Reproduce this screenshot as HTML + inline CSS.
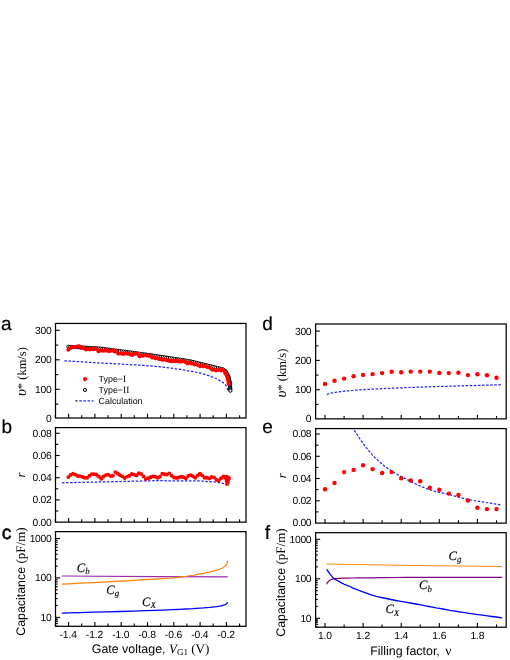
<!DOCTYPE html><html><head><meta charset="utf-8"><style>html,body{margin:0;padding:0;background:#fff}svg{display:block;will-change:transform;transform:translateZ(0)}text{font-family:"Liberation Sans",sans-serif;fill:#000;text-rendering:geometricPrecision}.s{font-family:"Liberation Serif",serif}</style></head><body>
<svg width="510" height="660" viewBox="0 0 510 660">
<rect width="510" height="660" fill="#fff"/>
<rect x="55.5" y="323.45" width="190.5" height="94.55000000000001" fill="none" stroke="#000" stroke-width="1.25"/>
<line x1="68.6" y1="418.0" x2="68.6" y2="413.8" stroke="#000" stroke-width="1.1"/>
<line x1="94.9" y1="418.0" x2="94.9" y2="413.8" stroke="#000" stroke-width="1.1"/>
<line x1="121.2" y1="418.0" x2="121.2" y2="413.8" stroke="#000" stroke-width="1.1"/>
<line x1="147.5" y1="418.0" x2="147.5" y2="413.8" stroke="#000" stroke-width="1.1"/>
<line x1="173.8" y1="418.0" x2="173.8" y2="413.8" stroke="#000" stroke-width="1.1"/>
<line x1="200.1" y1="418.0" x2="200.1" y2="413.8" stroke="#000" stroke-width="1.1"/>
<line x1="226.4" y1="418.0" x2="226.4" y2="413.8" stroke="#000" stroke-width="1.1"/>
<line x1="55.4" y1="418.0" x2="55.4" y2="415.2" stroke="#000" stroke-width="1.1"/>
<line x1="81.7" y1="418.0" x2="81.7" y2="415.2" stroke="#000" stroke-width="1.1"/>
<line x1="108.0" y1="418.0" x2="108.0" y2="415.2" stroke="#000" stroke-width="1.1"/>
<line x1="134.3" y1="418.0" x2="134.3" y2="415.2" stroke="#000" stroke-width="1.1"/>
<line x1="160.6" y1="418.0" x2="160.6" y2="415.2" stroke="#000" stroke-width="1.1"/>
<line x1="186.9" y1="418.0" x2="186.9" y2="415.2" stroke="#000" stroke-width="1.1"/>
<line x1="213.2" y1="418.0" x2="213.2" y2="415.2" stroke="#000" stroke-width="1.1"/>
<line x1="239.6" y1="418.0" x2="239.6" y2="415.2" stroke="#000" stroke-width="1.1"/>
<line x1="55.5" y1="389.3" x2="59.7" y2="389.3" stroke="#000" stroke-width="1.1"/>
<line x1="55.5" y1="359.8" x2="59.7" y2="359.8" stroke="#000" stroke-width="1.1"/>
<line x1="55.5" y1="330.3" x2="59.7" y2="330.3" stroke="#000" stroke-width="1.1"/>
<line x1="55.5" y1="404.1" x2="58.3" y2="404.1" stroke="#000" stroke-width="1.1"/>
<line x1="55.5" y1="374.6" x2="58.3" y2="374.6" stroke="#000" stroke-width="1.1"/>
<line x1="55.5" y1="345.1" x2="58.3" y2="345.1" stroke="#000" stroke-width="1.1"/>
<text x="51.4" y="422.2" font-size="10.3" letter-spacing="-0.3" text-anchor="end">0</text>
<text x="51.4" y="392.7" font-size="10.3" letter-spacing="-0.3" text-anchor="end">100</text>
<text x="51.4" y="363.2" font-size="10.3" letter-spacing="-0.3" text-anchor="end">200</text>
<text x="51.4" y="333.7" font-size="10.3" letter-spacing="-0.3" text-anchor="end">300</text>
<polyline points="64.4,360.8 67.0,361.0 70.3,361.2 74.3,361.4 78.8,361.7 83.7,362.0 88.9,362.3 94.4,362.7 100.0,363.0 106.1,363.3 112.8,363.7 120.0,364.1 127.4,364.5 134.8,364.9 142.1,365.3 148.9,365.8 155.0,366.3 160.6,366.9 166.0,367.5 171.0,368.1 175.8,368.8 180.3,369.4 184.5,370.1 188.4,370.8 192.0,371.4 195.2,372.0 197.9,372.6 200.4,373.2 202.5,373.7 204.4,374.3 206.2,374.9 207.9,375.4 209.6,376.0 211.2,376.6 212.7,377.1 214.1,377.7 215.3,378.3 216.4,378.8 217.5,379.4 218.5,379.9 219.4,380.4 220.3,380.9 221.0,381.3 221.7,381.8 222.3,382.2 222.9,382.6 223.4,383.0 223.9,383.4 224.3,383.8 224.7,384.2 225.1,384.5 225.3,384.8 225.6,385.1 225.8,385.4 226.0,385.7 226.2,385.9 226.4,386.2 226.6,386.5 226.7,386.7 226.8,387.0 227.0,387.2 227.1,387.5 227.1,387.7 227.2,388.0 227.3,388.2 227.4,388.5 227.4,388.7 227.5,389.0 227.6,389.3 227.6,389.6 227.6,389.8 227.7,390.0 227.7,390.2" fill="none" stroke="#2222ff" stroke-width="1.25" stroke-dasharray="2.5,1.6" stroke-linejoin="round"/>
<circle cx="68.3" cy="346.7" r="1.55" fill="#fff" stroke="#000" stroke-width="1"/>
<circle cx="70.1" cy="346.8" r="1.55" fill="#fff" stroke="#000" stroke-width="1"/>
<circle cx="71.9" cy="346.9" r="1.55" fill="#fff" stroke="#000" stroke-width="1"/>
<circle cx="73.6" cy="347.0" r="1.55" fill="#fff" stroke="#000" stroke-width="1"/>
<circle cx="75.4" cy="347.1" r="1.55" fill="#fff" stroke="#000" stroke-width="1"/>
<circle cx="77.2" cy="347.2" r="1.55" fill="#fff" stroke="#000" stroke-width="1"/>
<circle cx="79.0" cy="347.3" r="1.55" fill="#fff" stroke="#000" stroke-width="1"/>
<circle cx="80.8" cy="347.4" r="1.55" fill="#fff" stroke="#000" stroke-width="1"/>
<circle cx="82.5" cy="347.5" r="1.55" fill="#fff" stroke="#000" stroke-width="1"/>
<circle cx="84.3" cy="347.6" r="1.55" fill="#fff" stroke="#000" stroke-width="1"/>
<circle cx="86.1" cy="347.7" r="1.55" fill="#fff" stroke="#000" stroke-width="1"/>
<circle cx="87.9" cy="347.8" r="1.55" fill="#fff" stroke="#000" stroke-width="1"/>
<circle cx="89.7" cy="347.9" r="1.55" fill="#fff" stroke="#000" stroke-width="1"/>
<circle cx="91.4" cy="348.0" r="1.55" fill="#fff" stroke="#000" stroke-width="1"/>
<circle cx="93.2" cy="348.1" r="1.55" fill="#fff" stroke="#000" stroke-width="1"/>
<circle cx="95.0" cy="348.2" r="1.55" fill="#fff" stroke="#000" stroke-width="1"/>
<circle cx="96.8" cy="348.3" r="1.55" fill="#fff" stroke="#000" stroke-width="1"/>
<circle cx="98.6" cy="348.4" r="1.55" fill="#fff" stroke="#000" stroke-width="1"/>
<circle cx="100.4" cy="348.5" r="1.55" fill="#fff" stroke="#000" stroke-width="1"/>
<circle cx="102.1" cy="348.8" r="1.55" fill="#fff" stroke="#000" stroke-width="1"/>
<circle cx="103.9" cy="349.0" r="1.55" fill="#fff" stroke="#000" stroke-width="1"/>
<circle cx="105.7" cy="349.3" r="1.55" fill="#fff" stroke="#000" stroke-width="1"/>
<circle cx="107.5" cy="349.5" r="1.55" fill="#fff" stroke="#000" stroke-width="1"/>
<circle cx="109.3" cy="349.7" r="1.55" fill="#fff" stroke="#000" stroke-width="1"/>
<circle cx="111.0" cy="350.0" r="1.55" fill="#fff" stroke="#000" stroke-width="1"/>
<circle cx="112.8" cy="350.2" r="1.55" fill="#fff" stroke="#000" stroke-width="1"/>
<circle cx="114.6" cy="350.4" r="1.55" fill="#fff" stroke="#000" stroke-width="1"/>
<circle cx="116.4" cy="350.7" r="1.55" fill="#fff" stroke="#000" stroke-width="1"/>
<circle cx="118.2" cy="350.9" r="1.55" fill="#fff" stroke="#000" stroke-width="1"/>
<circle cx="119.9" cy="351.1" r="1.55" fill="#fff" stroke="#000" stroke-width="1"/>
<circle cx="121.7" cy="351.4" r="1.55" fill="#fff" stroke="#000" stroke-width="1"/>
<circle cx="123.5" cy="351.6" r="1.55" fill="#fff" stroke="#000" stroke-width="1"/>
<circle cx="125.3" cy="351.8" r="1.55" fill="#fff" stroke="#000" stroke-width="1"/>
<circle cx="127.1" cy="352.1" r="1.55" fill="#fff" stroke="#000" stroke-width="1"/>
<circle cx="128.8" cy="352.3" r="1.55" fill="#fff" stroke="#000" stroke-width="1"/>
<circle cx="130.6" cy="352.5" r="1.55" fill="#fff" stroke="#000" stroke-width="1"/>
<circle cx="132.4" cy="352.8" r="1.55" fill="#fff" stroke="#000" stroke-width="1"/>
<circle cx="134.2" cy="353.0" r="1.55" fill="#fff" stroke="#000" stroke-width="1"/>
<circle cx="136.0" cy="353.2" r="1.55" fill="#fff" stroke="#000" stroke-width="1"/>
<circle cx="137.7" cy="353.5" r="1.55" fill="#fff" stroke="#000" stroke-width="1"/>
<circle cx="139.5" cy="353.7" r="1.55" fill="#fff" stroke="#000" stroke-width="1"/>
<circle cx="141.3" cy="354.0" r="1.55" fill="#fff" stroke="#000" stroke-width="1"/>
<circle cx="143.1" cy="354.2" r="1.55" fill="#fff" stroke="#000" stroke-width="1"/>
<circle cx="144.9" cy="354.4" r="1.55" fill="#fff" stroke="#000" stroke-width="1"/>
<circle cx="146.6" cy="354.7" r="1.55" fill="#fff" stroke="#000" stroke-width="1"/>
<circle cx="148.4" cy="354.9" r="1.55" fill="#fff" stroke="#000" stroke-width="1"/>
<circle cx="150.2" cy="355.1" r="1.55" fill="#fff" stroke="#000" stroke-width="1"/>
<circle cx="152.0" cy="355.4" r="1.55" fill="#fff" stroke="#000" stroke-width="1"/>
<circle cx="153.8" cy="355.7" r="1.55" fill="#fff" stroke="#000" stroke-width="1"/>
<circle cx="155.6" cy="355.9" r="1.55" fill="#fff" stroke="#000" stroke-width="1"/>
<circle cx="157.3" cy="356.2" r="1.55" fill="#fff" stroke="#000" stroke-width="1"/>
<circle cx="159.1" cy="356.5" r="1.55" fill="#fff" stroke="#000" stroke-width="1"/>
<circle cx="160.9" cy="356.8" r="1.55" fill="#fff" stroke="#000" stroke-width="1"/>
<circle cx="162.7" cy="357.0" r="1.55" fill="#fff" stroke="#000" stroke-width="1"/>
<circle cx="164.5" cy="357.3" r="1.55" fill="#fff" stroke="#000" stroke-width="1"/>
<circle cx="166.2" cy="357.6" r="1.55" fill="#fff" stroke="#000" stroke-width="1"/>
<circle cx="168.0" cy="357.8" r="1.55" fill="#fff" stroke="#000" stroke-width="1"/>
<circle cx="169.8" cy="358.1" r="1.55" fill="#fff" stroke="#000" stroke-width="1"/>
<circle cx="171.6" cy="358.4" r="1.55" fill="#fff" stroke="#000" stroke-width="1"/>
<circle cx="173.4" cy="358.7" r="1.55" fill="#fff" stroke="#000" stroke-width="1"/>
<circle cx="175.1" cy="358.9" r="1.55" fill="#fff" stroke="#000" stroke-width="1"/>
<circle cx="176.9" cy="359.2" r="1.55" fill="#fff" stroke="#000" stroke-width="1"/>
<circle cx="178.7" cy="359.5" r="1.55" fill="#fff" stroke="#000" stroke-width="1"/>
<circle cx="180.5" cy="359.7" r="1.55" fill="#fff" stroke="#000" stroke-width="1"/>
<circle cx="182.3" cy="360.0" r="1.55" fill="#fff" stroke="#000" stroke-width="1"/>
<circle cx="184.0" cy="360.3" r="1.55" fill="#fff" stroke="#000" stroke-width="1"/>
<circle cx="185.8" cy="360.6" r="1.55" fill="#fff" stroke="#000" stroke-width="1"/>
<circle cx="187.6" cy="360.8" r="1.55" fill="#fff" stroke="#000" stroke-width="1"/>
<circle cx="189.4" cy="361.1" r="1.55" fill="#fff" stroke="#000" stroke-width="1"/>
<circle cx="191.2" cy="361.5" r="1.55" fill="#fff" stroke="#000" stroke-width="1"/>
<circle cx="192.9" cy="361.9" r="1.55" fill="#fff" stroke="#000" stroke-width="1"/>
<circle cx="194.7" cy="362.4" r="1.55" fill="#fff" stroke="#000" stroke-width="1"/>
<circle cx="196.5" cy="362.8" r="1.55" fill="#fff" stroke="#000" stroke-width="1"/>
<circle cx="198.3" cy="363.2" r="1.55" fill="#fff" stroke="#000" stroke-width="1"/>
<circle cx="200.1" cy="363.7" r="1.55" fill="#fff" stroke="#000" stroke-width="1"/>
<circle cx="201.9" cy="364.1" r="1.55" fill="#fff" stroke="#000" stroke-width="1"/>
<circle cx="203.6" cy="364.6" r="1.55" fill="#fff" stroke="#000" stroke-width="1"/>
<circle cx="205.4" cy="365.0" r="1.55" fill="#fff" stroke="#000" stroke-width="1"/>
<circle cx="207.2" cy="365.4" r="1.55" fill="#fff" stroke="#000" stroke-width="1"/>
<circle cx="209.0" cy="365.9" r="1.55" fill="#fff" stroke="#000" stroke-width="1"/>
<circle cx="210.8" cy="366.3" r="1.55" fill="#fff" stroke="#000" stroke-width="1"/>
<circle cx="212.5" cy="366.7" r="1.55" fill="#fff" stroke="#000" stroke-width="1"/>
<circle cx="214.3" cy="367.2" r="1.55" fill="#fff" stroke="#000" stroke-width="1"/>
<circle cx="216.1" cy="367.6" r="1.55" fill="#fff" stroke="#000" stroke-width="1"/>
<circle cx="217.9" cy="368.1" r="1.55" fill="#fff" stroke="#000" stroke-width="1"/>
<circle cx="219.7" cy="368.5" r="1.55" fill="#fff" stroke="#000" stroke-width="1"/>
<circle cx="221.4" cy="368.9" r="1.55" fill="#fff" stroke="#000" stroke-width="1"/>
<circle cx="223.2" cy="369.4" r="1.55" fill="#fff" stroke="#000" stroke-width="1"/>
<circle cx="225.0" cy="370.9" r="1.55" fill="#fff" stroke="#000" stroke-width="1"/>
<circle cx="226.0" cy="371.7" r="1.55" fill="#fff" stroke="#000" stroke-width="1"/>
<circle cx="226.9" cy="373.3" r="1.55" fill="#fff" stroke="#000" stroke-width="1"/>
<circle cx="227.6" cy="374.7" r="1.55" fill="#fff" stroke="#000" stroke-width="1"/>
<circle cx="228.2" cy="376.0" r="1.55" fill="#fff" stroke="#000" stroke-width="1"/>
<circle cx="228.3" cy="376.3" r="1.55" fill="#fff" stroke="#000" stroke-width="1"/>
<circle cx="228.5" cy="377.2" r="1.55" fill="#fff" stroke="#000" stroke-width="1"/>
<circle cx="228.7" cy="378.0" r="1.55" fill="#fff" stroke="#000" stroke-width="1"/>
<circle cx="228.9" cy="378.9" r="1.55" fill="#fff" stroke="#000" stroke-width="1"/>
<circle cx="229.1" cy="379.7" r="1.55" fill="#fff" stroke="#000" stroke-width="1"/>
<circle cx="229.3" cy="380.6" r="1.55" fill="#fff" stroke="#000" stroke-width="1"/>
<circle cx="229.5" cy="381.4" r="1.55" fill="#fff" stroke="#000" stroke-width="1"/>
<circle cx="229.6" cy="382.3" r="1.55" fill="#fff" stroke="#000" stroke-width="1"/>
<circle cx="229.7" cy="383.1" r="1.55" fill="#fff" stroke="#000" stroke-width="1"/>
<circle cx="229.8" cy="384.0" r="1.55" fill="#fff" stroke="#000" stroke-width="1"/>
<circle cx="229.9" cy="384.8" r="1.55" fill="#fff" stroke="#000" stroke-width="1"/>
<circle cx="230.1" cy="385.7" r="1.55" fill="#fff" stroke="#000" stroke-width="1"/>
<circle cx="230.1" cy="386.5" r="1.55" fill="#fff" stroke="#000" stroke-width="1"/>
<circle cx="230.2" cy="387.4" r="1.55" fill="#fff" stroke="#000" stroke-width="1"/>
<circle cx="230.2" cy="388.2" r="1.55" fill="#fff" stroke="#000" stroke-width="1"/>
<circle cx="230.3" cy="389.1" r="1.55" fill="#fff" stroke="#000" stroke-width="1"/>
<circle cx="230.3" cy="389.9" r="1.55" fill="#fff" stroke="#000" stroke-width="1"/>
<circle cx="230.4" cy="390.8" r="1.55" fill="#fff" stroke="#000" stroke-width="1"/>
<circle cx="68.3" cy="349.8" r="2" fill="#f00"/>
<circle cx="70.1" cy="348.3" r="2" fill="#f00"/>
<circle cx="71.9" cy="347.3" r="2" fill="#f00"/>
<circle cx="73.6" cy="346.9" r="2" fill="#f00"/>
<circle cx="75.4" cy="347.0" r="2" fill="#f00"/>
<circle cx="77.2" cy="346.4" r="2" fill="#f00"/>
<circle cx="79.0" cy="346.2" r="2" fill="#f00"/>
<circle cx="80.8" cy="347.8" r="2" fill="#f00"/>
<circle cx="82.5" cy="347.5" r="2" fill="#f00"/>
<circle cx="84.3" cy="348.5" r="2" fill="#f00"/>
<circle cx="86.1" cy="349.4" r="2" fill="#f00"/>
<circle cx="87.9" cy="348.9" r="2" fill="#f00"/>
<circle cx="89.7" cy="349.4" r="2" fill="#f00"/>
<circle cx="91.4" cy="349.1" r="2" fill="#f00"/>
<circle cx="93.2" cy="349.3" r="2" fill="#f00"/>
<circle cx="95.0" cy="348.5" r="2" fill="#f00"/>
<circle cx="96.8" cy="349.2" r="2" fill="#f00"/>
<circle cx="98.6" cy="351.2" r="2" fill="#f00"/>
<circle cx="100.4" cy="350.5" r="2" fill="#f00"/>
<circle cx="102.1" cy="350.6" r="2" fill="#f00"/>
<circle cx="103.9" cy="350.7" r="2" fill="#f00"/>
<circle cx="105.7" cy="349.7" r="2" fill="#f00"/>
<circle cx="107.5" cy="350.7" r="2" fill="#f00"/>
<circle cx="109.3" cy="351.0" r="2" fill="#f00"/>
<circle cx="111.0" cy="350.7" r="2" fill="#f00"/>
<circle cx="112.8" cy="350.1" r="2" fill="#f00"/>
<circle cx="114.6" cy="351.5" r="2" fill="#f00"/>
<circle cx="116.4" cy="351.6" r="2" fill="#f00"/>
<circle cx="118.2" cy="353.5" r="2" fill="#f00"/>
<circle cx="119.9" cy="353.6" r="2" fill="#f00"/>
<circle cx="121.7" cy="353.5" r="2" fill="#f00"/>
<circle cx="123.5" cy="353.9" r="2" fill="#f00"/>
<circle cx="125.3" cy="353.3" r="2" fill="#f00"/>
<circle cx="127.1" cy="353.8" r="2" fill="#f00"/>
<circle cx="128.8" cy="353.6" r="2" fill="#f00"/>
<circle cx="130.6" cy="354.5" r="2" fill="#f00"/>
<circle cx="132.4" cy="355.0" r="2" fill="#f00"/>
<circle cx="134.2" cy="353.8" r="2" fill="#f00"/>
<circle cx="136.0" cy="353.4" r="2" fill="#f00"/>
<circle cx="137.7" cy="353.5" r="2" fill="#f00"/>
<circle cx="139.5" cy="356.3" r="2" fill="#f00"/>
<circle cx="141.3" cy="355.6" r="2" fill="#f00"/>
<circle cx="143.1" cy="355.8" r="2" fill="#f00"/>
<circle cx="144.9" cy="355.3" r="2" fill="#f00"/>
<circle cx="146.6" cy="355.6" r="2" fill="#f00"/>
<circle cx="148.4" cy="355.7" r="2" fill="#f00"/>
<circle cx="150.2" cy="355.7" r="2" fill="#f00"/>
<circle cx="152.0" cy="357.6" r="2" fill="#f00"/>
<circle cx="153.8" cy="357.5" r="2" fill="#f00"/>
<circle cx="155.6" cy="358.2" r="2" fill="#f00"/>
<circle cx="157.3" cy="358.2" r="2" fill="#f00"/>
<circle cx="159.1" cy="358.9" r="2" fill="#f00"/>
<circle cx="160.9" cy="359.2" r="2" fill="#f00"/>
<circle cx="162.7" cy="359.8" r="2" fill="#f00"/>
<circle cx="164.5" cy="359.6" r="2" fill="#f00"/>
<circle cx="166.2" cy="359.9" r="2" fill="#f00"/>
<circle cx="168.0" cy="360.4" r="2" fill="#f00"/>
<circle cx="169.8" cy="360.9" r="2" fill="#f00"/>
<circle cx="171.6" cy="361.2" r="2" fill="#f00"/>
<circle cx="173.4" cy="360.9" r="2" fill="#f00"/>
<circle cx="175.1" cy="361.2" r="2" fill="#f00"/>
<circle cx="176.9" cy="360.5" r="2" fill="#f00"/>
<circle cx="178.7" cy="361.5" r="2" fill="#f00"/>
<circle cx="180.5" cy="361.6" r="2" fill="#f00"/>
<circle cx="182.3" cy="361.3" r="2" fill="#f00"/>
<circle cx="184.0" cy="360.9" r="2" fill="#f00"/>
<circle cx="185.8" cy="362.3" r="2" fill="#f00"/>
<circle cx="187.6" cy="363.4" r="2" fill="#f00"/>
<circle cx="189.4" cy="362.4" r="2" fill="#f00"/>
<circle cx="191.2" cy="363.5" r="2" fill="#f00"/>
<circle cx="192.9" cy="363.6" r="2" fill="#f00"/>
<circle cx="194.7" cy="364.6" r="2" fill="#f00"/>
<circle cx="196.5" cy="364.3" r="2" fill="#f00"/>
<circle cx="198.3" cy="365.3" r="2" fill="#f00"/>
<circle cx="200.1" cy="366.3" r="2" fill="#f00"/>
<circle cx="201.9" cy="365.4" r="2" fill="#f00"/>
<circle cx="203.6" cy="366.2" r="2" fill="#f00"/>
<circle cx="205.4" cy="365.8" r="2" fill="#f00"/>
<circle cx="207.2" cy="367.1" r="2" fill="#f00"/>
<circle cx="209.0" cy="367.2" r="2" fill="#f00"/>
<circle cx="210.8" cy="368.6" r="2" fill="#f00"/>
<circle cx="212.5" cy="369.7" r="2" fill="#f00"/>
<circle cx="214.3" cy="369.5" r="2" fill="#f00"/>
<circle cx="216.1" cy="370.6" r="2" fill="#f00"/>
<circle cx="217.9" cy="370.1" r="2" fill="#f00"/>
<circle cx="219.7" cy="369.6" r="2" fill="#f00"/>
<circle cx="221.4" cy="370.6" r="2" fill="#f00"/>
<circle cx="223.2" cy="370.3" r="2" fill="#f00"/>
<circle cx="225.0" cy="372.7" r="2" fill="#f00"/>
<circle cx="225.8" cy="373.3" r="2" fill="#f00"/>
<circle cx="226.6" cy="375.2" r="2" fill="#f00"/>
<circle cx="227.3" cy="377.2" r="2" fill="#f00"/>
<circle cx="227.9" cy="379.3" r="2" fill="#f00"/>
<circle cx="228.3" cy="381.1" r="2" fill="#f00"/>
<circle cx="228.6" cy="383.0" r="2" fill="#f00"/>
<circle cx="228.7" cy="384.0" r="2" fill="#f00"/>
<circle cx="85" cy="379.1" r="2.05" fill="#f00"/>
<circle cx="85" cy="390" r="1.55" fill="#fff" stroke="#000" stroke-width="1"/>
<line x1="75.2" y1="400.8" x2="93.4" y2="400.8" stroke="#2222ff" stroke-width="1.25" stroke-dasharray="2.5,1.6"/>
<text x="98.6" y="382.3" font-size="8.9">Type−<tspan class="s" font-size="9.4">I</tspan></text>
<text x="98.6" y="393.4" font-size="8.9">Type−<tspan class="s" font-size="9.4">II</tspan></text>
<text x="98.6" y="404.3" font-size="8.9">Calculation</text>
<text x="1.1" y="329.9" font-size="19" stroke="#000" stroke-width="0.2">a</text>
<text class="s" transform="translate(25.7,371.6) rotate(-90)" font-size="12.5" text-anchor="middle"><tspan font-style="italic" font-size="15">υ</tspan>* (km/s)</text>
<rect x="55.5" y="427.6" width="190.5" height="94.54999999999995" fill="none" stroke="#000" stroke-width="1.25"/>
<line x1="68.6" y1="522.15" x2="68.6" y2="517.9499999999999" stroke="#000" stroke-width="1.1"/>
<line x1="94.9" y1="522.15" x2="94.9" y2="517.9499999999999" stroke="#000" stroke-width="1.1"/>
<line x1="121.2" y1="522.15" x2="121.2" y2="517.9499999999999" stroke="#000" stroke-width="1.1"/>
<line x1="147.5" y1="522.15" x2="147.5" y2="517.9499999999999" stroke="#000" stroke-width="1.1"/>
<line x1="173.8" y1="522.15" x2="173.8" y2="517.9499999999999" stroke="#000" stroke-width="1.1"/>
<line x1="200.1" y1="522.15" x2="200.1" y2="517.9499999999999" stroke="#000" stroke-width="1.1"/>
<line x1="226.4" y1="522.15" x2="226.4" y2="517.9499999999999" stroke="#000" stroke-width="1.1"/>
<line x1="55.4" y1="522.15" x2="55.4" y2="519.35" stroke="#000" stroke-width="1.1"/>
<line x1="81.7" y1="522.15" x2="81.7" y2="519.35" stroke="#000" stroke-width="1.1"/>
<line x1="108.0" y1="522.15" x2="108.0" y2="519.35" stroke="#000" stroke-width="1.1"/>
<line x1="134.3" y1="522.15" x2="134.3" y2="519.35" stroke="#000" stroke-width="1.1"/>
<line x1="160.6" y1="522.15" x2="160.6" y2="519.35" stroke="#000" stroke-width="1.1"/>
<line x1="186.9" y1="522.15" x2="186.9" y2="519.35" stroke="#000" stroke-width="1.1"/>
<line x1="213.2" y1="522.15" x2="213.2" y2="519.35" stroke="#000" stroke-width="1.1"/>
<line x1="239.6" y1="522.15" x2="239.6" y2="519.35" stroke="#000" stroke-width="1.1"/>
<line x1="55.5" y1="499.9" x2="59.7" y2="499.9" stroke="#000" stroke-width="1.1"/>
<line x1="55.5" y1="477.7" x2="59.7" y2="477.7" stroke="#000" stroke-width="1.1"/>
<line x1="55.5" y1="455.5" x2="59.7" y2="455.5" stroke="#000" stroke-width="1.1"/>
<line x1="55.5" y1="433.3" x2="59.7" y2="433.3" stroke="#000" stroke-width="1.1"/>
<line x1="55.5" y1="511.0" x2="58.3" y2="511.0" stroke="#000" stroke-width="1.1"/>
<line x1="55.5" y1="488.8" x2="58.3" y2="488.8" stroke="#000" stroke-width="1.1"/>
<line x1="55.5" y1="466.6" x2="58.3" y2="466.6" stroke="#000" stroke-width="1.1"/>
<line x1="55.5" y1="444.4" x2="58.3" y2="444.4" stroke="#000" stroke-width="1.1"/>
<text x="51.4" y="525.5" font-size="10.3" letter-spacing="-0.3" text-anchor="end">0.00</text>
<text x="51.4" y="503.3" font-size="10.3" letter-spacing="-0.3" text-anchor="end">0.02</text>
<text x="51.4" y="481.1" font-size="10.3" letter-spacing="-0.3" text-anchor="end">0.04</text>
<text x="51.4" y="458.9" font-size="10.3" letter-spacing="-0.3" text-anchor="end">0.06</text>
<text x="51.4" y="436.7" font-size="10.3" letter-spacing="-0.3" text-anchor="end">0.08</text>
<polyline points="61.9,482.8 155.0,480.7 199.0,480.9 215.0,482.0 225.5,483.8" fill="none" stroke="#2222ff" stroke-width="1.25" stroke-dasharray="2.5,1.6" stroke-linejoin="round"/>
<circle cx="68.3" cy="477.1" r="1.95" fill="#f00"/>
<circle cx="70.6" cy="474.9" r="1.95" fill="#f00"/>
<circle cx="73.0" cy="473.8" r="1.95" fill="#f00"/>
<circle cx="75.3" cy="474.6" r="1.95" fill="#f00"/>
<circle cx="77.7" cy="476.0" r="1.95" fill="#f00"/>
<circle cx="80.0" cy="476.1" r="1.95" fill="#f00"/>
<circle cx="82.4" cy="476.9" r="1.95" fill="#f00"/>
<circle cx="84.8" cy="477.7" r="1.95" fill="#f00"/>
<circle cx="87.1" cy="477.7" r="1.95" fill="#f00"/>
<circle cx="89.5" cy="475.7" r="1.95" fill="#f00"/>
<circle cx="91.8" cy="474.1" r="1.95" fill="#f00"/>
<circle cx="94.2" cy="474.2" r="1.95" fill="#f00"/>
<circle cx="96.5" cy="474.7" r="1.95" fill="#f00"/>
<circle cx="98.8" cy="476.5" r="1.95" fill="#f00"/>
<circle cx="101.2" cy="478.8" r="1.95" fill="#f00"/>
<circle cx="103.5" cy="476.5" r="1.95" fill="#f00"/>
<circle cx="105.9" cy="475.1" r="1.95" fill="#f00"/>
<circle cx="108.2" cy="474.6" r="1.95" fill="#f00"/>
<circle cx="110.6" cy="476.1" r="1.95" fill="#f00"/>
<circle cx="112.9" cy="475.8" r="1.95" fill="#f00"/>
<circle cx="115.3" cy="472.1" r="1.95" fill="#f00"/>
<circle cx="117.7" cy="473.5" r="1.95" fill="#f00"/>
<circle cx="120.0" cy="475.3" r="1.95" fill="#f00"/>
<circle cx="122.3" cy="476.4" r="1.95" fill="#f00"/>
<circle cx="124.7" cy="478.0" r="1.95" fill="#f00"/>
<circle cx="127.0" cy="476.6" r="1.95" fill="#f00"/>
<circle cx="129.4" cy="475.7" r="1.95" fill="#f00"/>
<circle cx="131.8" cy="474.0" r="1.95" fill="#f00"/>
<circle cx="134.1" cy="474.6" r="1.95" fill="#f00"/>
<circle cx="136.4" cy="475.4" r="1.95" fill="#f00"/>
<circle cx="138.8" cy="473.2" r="1.95" fill="#f00"/>
<circle cx="141.2" cy="473.9" r="1.95" fill="#f00"/>
<circle cx="143.5" cy="476.5" r="1.95" fill="#f00"/>
<circle cx="145.8" cy="479.1" r="1.95" fill="#f00"/>
<circle cx="148.2" cy="478.3" r="1.95" fill="#f00"/>
<circle cx="150.6" cy="477.2" r="1.95" fill="#f00"/>
<circle cx="152.9" cy="476.4" r="1.95" fill="#f00"/>
<circle cx="155.2" cy="476.8" r="1.95" fill="#f00"/>
<circle cx="157.6" cy="477.7" r="1.95" fill="#f00"/>
<circle cx="159.9" cy="476.7" r="1.95" fill="#f00"/>
<circle cx="162.3" cy="473.8" r="1.95" fill="#f00"/>
<circle cx="164.7" cy="474.3" r="1.95" fill="#f00"/>
<circle cx="167.0" cy="474.5" r="1.95" fill="#f00"/>
<circle cx="169.3" cy="473.4" r="1.95" fill="#f00"/>
<circle cx="171.7" cy="475.8" r="1.95" fill="#f00"/>
<circle cx="174.1" cy="477.5" r="1.95" fill="#f00"/>
<circle cx="176.4" cy="478.0" r="1.95" fill="#f00"/>
<circle cx="178.8" cy="477.5" r="1.95" fill="#f00"/>
<circle cx="181.1" cy="476.8" r="1.95" fill="#f00"/>
<circle cx="183.4" cy="477.3" r="1.95" fill="#f00"/>
<circle cx="185.8" cy="478.3" r="1.95" fill="#f00"/>
<circle cx="188.2" cy="476.0" r="1.95" fill="#f00"/>
<circle cx="190.5" cy="475.1" r="1.95" fill="#f00"/>
<circle cx="192.9" cy="476.3" r="1.95" fill="#f00"/>
<circle cx="195.2" cy="477.8" r="1.95" fill="#f00"/>
<circle cx="197.6" cy="475.4" r="1.95" fill="#f00"/>
<circle cx="199.9" cy="473.8" r="1.95" fill="#f00"/>
<circle cx="202.2" cy="475.4" r="1.95" fill="#f00"/>
<circle cx="204.6" cy="477.8" r="1.95" fill="#f00"/>
<circle cx="206.9" cy="477.7" r="1.95" fill="#f00"/>
<circle cx="209.3" cy="478.5" r="1.95" fill="#f00"/>
<circle cx="211.6" cy="476.9" r="1.95" fill="#f00"/>
<circle cx="214.0" cy="477.4" r="1.95" fill="#f00"/>
<circle cx="216.4" cy="479.8" r="1.95" fill="#f00"/>
<circle cx="218.7" cy="480.7" r="1.95" fill="#f00"/>
<circle cx="221.1" cy="478.2" r="1.95" fill="#f00"/>
<circle cx="223.4" cy="476.5" r="1.95" fill="#f00"/>
<circle cx="225.5" cy="478.0" r="1.95" fill="#f00"/>
<circle cx="226.5" cy="476.8" r="1.95" fill="#f00"/>
<circle cx="227.3" cy="479.0" r="1.95" fill="#f00"/>
<circle cx="227.8" cy="482.0" r="1.95" fill="#f00"/>
<circle cx="228.4" cy="477.5" r="1.95" fill="#f00"/>
<circle cx="227.0" cy="484.0" r="1.95" fill="#f00"/>
<circle cx="226.6" cy="481.0" r="1.95" fill="#f00"/>
<circle cx="228.0" cy="480.0" r="1.95" fill="#f00"/>
<circle cx="229.0" cy="478.5" r="1.95" fill="#f00"/>
<text x="1.5" y="433.4" font-size="19" stroke="#000" stroke-width="0.2">b</text>
<text class="s" transform="translate(25.4,475) rotate(-90)" font-size="13" text-anchor="middle" font-style="italic">r</text>
<rect x="55.5" y="531.65" width="190.5" height="94.64999999999998" fill="none" stroke="#000" stroke-width="1.25"/>
<line x1="68.6" y1="626.3" x2="68.6" y2="622.0999999999999" stroke="#000" stroke-width="1.1"/>
<line x1="94.9" y1="626.3" x2="94.9" y2="622.0999999999999" stroke="#000" stroke-width="1.1"/>
<line x1="121.2" y1="626.3" x2="121.2" y2="622.0999999999999" stroke="#000" stroke-width="1.1"/>
<line x1="147.5" y1="626.3" x2="147.5" y2="622.0999999999999" stroke="#000" stroke-width="1.1"/>
<line x1="173.8" y1="626.3" x2="173.8" y2="622.0999999999999" stroke="#000" stroke-width="1.1"/>
<line x1="200.1" y1="626.3" x2="200.1" y2="622.0999999999999" stroke="#000" stroke-width="1.1"/>
<line x1="226.4" y1="626.3" x2="226.4" y2="622.0999999999999" stroke="#000" stroke-width="1.1"/>
<line x1="55.4" y1="626.3" x2="55.4" y2="623.5" stroke="#000" stroke-width="1.1"/>
<line x1="81.7" y1="626.3" x2="81.7" y2="623.5" stroke="#000" stroke-width="1.1"/>
<line x1="108.0" y1="626.3" x2="108.0" y2="623.5" stroke="#000" stroke-width="1.1"/>
<line x1="134.3" y1="626.3" x2="134.3" y2="623.5" stroke="#000" stroke-width="1.1"/>
<line x1="160.6" y1="626.3" x2="160.6" y2="623.5" stroke="#000" stroke-width="1.1"/>
<line x1="186.9" y1="626.3" x2="186.9" y2="623.5" stroke="#000" stroke-width="1.1"/>
<line x1="213.2" y1="626.3" x2="213.2" y2="623.5" stroke="#000" stroke-width="1.1"/>
<line x1="239.6" y1="626.3" x2="239.6" y2="623.5" stroke="#000" stroke-width="1.1"/>
<line x1="55.5" y1="617.4" x2="60.0" y2="617.4" stroke="#000" stroke-width="1.1"/>
<line x1="55.5" y1="577.9" x2="60.0" y2="577.9" stroke="#000" stroke-width="1.1"/>
<line x1="55.5" y1="538.5" x2="60.0" y2="538.5" stroke="#000" stroke-width="1.1"/>
<line x1="55.5" y1="623.5" x2="57.7" y2="623.5" stroke="#000" stroke-width="1.1"/>
<line x1="55.5" y1="621.2" x2="57.7" y2="621.2" stroke="#000" stroke-width="1.1"/>
<line x1="55.5" y1="619.2" x2="57.7" y2="619.2" stroke="#000" stroke-width="1.1"/>
<line x1="55.5" y1="605.5" x2="57.7" y2="605.5" stroke="#000" stroke-width="1.1"/>
<line x1="55.5" y1="598.6" x2="57.7" y2="598.6" stroke="#000" stroke-width="1.1"/>
<line x1="55.5" y1="593.6" x2="57.7" y2="593.6" stroke="#000" stroke-width="1.1"/>
<line x1="55.5" y1="589.8" x2="57.7" y2="589.8" stroke="#000" stroke-width="1.1"/>
<line x1="55.5" y1="586.7" x2="57.7" y2="586.7" stroke="#000" stroke-width="1.1"/>
<line x1="55.5" y1="584.1" x2="57.7" y2="584.1" stroke="#000" stroke-width="1.1"/>
<line x1="55.5" y1="581.8" x2="57.7" y2="581.8" stroke="#000" stroke-width="1.1"/>
<line x1="55.5" y1="579.8" x2="57.7" y2="579.8" stroke="#000" stroke-width="1.1"/>
<line x1="55.5" y1="566.1" x2="57.7" y2="566.1" stroke="#000" stroke-width="1.1"/>
<line x1="55.5" y1="559.1" x2="57.7" y2="559.1" stroke="#000" stroke-width="1.1"/>
<line x1="55.5" y1="554.2" x2="57.7" y2="554.2" stroke="#000" stroke-width="1.1"/>
<line x1="55.5" y1="550.4" x2="57.7" y2="550.4" stroke="#000" stroke-width="1.1"/>
<line x1="55.5" y1="547.3" x2="57.7" y2="547.3" stroke="#000" stroke-width="1.1"/>
<line x1="55.5" y1="544.6" x2="57.7" y2="544.6" stroke="#000" stroke-width="1.1"/>
<line x1="55.5" y1="542.3" x2="57.7" y2="542.3" stroke="#000" stroke-width="1.1"/>
<line x1="55.5" y1="540.3" x2="57.7" y2="540.3" stroke="#000" stroke-width="1.1"/>
<line x1="55.5" y1="626.2" x2="57.7" y2="626.2" stroke="#000" stroke-width="1.1"/>
<line x1="55.5" y1="623.5" x2="57.7" y2="623.5" stroke="#000" stroke-width="1.1"/>
<line x1="55.5" y1="621.2" x2="57.7" y2="621.2" stroke="#000" stroke-width="1.1"/>
<line x1="55.5" y1="619.2" x2="57.7" y2="619.2" stroke="#000" stroke-width="1.1"/>
<text x="51.4" y="620.8" font-size="10.3" letter-spacing="-0.3" text-anchor="end">10</text>
<text x="51.4" y="581.3" font-size="10.3" letter-spacing="-0.3" text-anchor="end">100</text>
<text x="51.4" y="541.9" font-size="10.3" letter-spacing="-0.3" text-anchor="end">1000</text>
<polyline points="61.8,576.0 155.0,576.6 227.8,576.8" fill="none" stroke="#9a2aa8" stroke-width="1.2" stroke-linejoin="round"/>
<polyline points="61.8,584.2 69.4,583.8 80.0,583.2 92.7,582.6 106.6,581.8 120.6,581.1 134.0,580.3 145.8,579.7 155.0,579.1 161.8,578.7 166.9,578.3 170.9,578.0 173.9,577.8 176.5,577.5 178.8,577.2 181.3,576.9 184.3,576.5 187.7,576.0 191.1,575.5 194.4,575.0 197.6,574.4 200.8,573.8 203.7,573.3 206.4,572.7 208.8,572.2 210.9,571.7 212.8,571.3 214.5,570.8 215.9,570.4 217.2,570.0 218.4,569.6 219.5,569.2 220.6,568.8 221.6,568.4 222.4,568.0 223.1,567.6 223.7,567.2 224.2,566.8 224.7,566.4 225.1,566.1 225.5,565.7 225.9,565.3 226.2,565.0 226.4,564.7 226.6,564.3 226.8,564.0 226.9,563.7 227.1,563.3 227.2,563.0 227.3,562.7 227.4,562.3 227.5,561.9 227.6,561.5 227.7,561.2 227.7,560.9 227.8,560.6 227.8,560.4" fill="none" stroke="#ff8000" stroke-width="1.2" stroke-linejoin="round"/>
<polyline points="61.8,613.1 69.4,612.9 79.9,612.6 92.5,612.2 106.3,611.9 120.3,611.5 133.7,611.1 145.5,610.7 155.0,610.4 162.2,610.1 167.9,609.9 172.5,609.7 176.3,609.5 179.6,609.4 182.6,609.2 185.7,609.0 189.2,608.8 192.9,608.6 196.6,608.3 200.1,608.1 203.5,607.9 206.7,607.6 209.6,607.4 212.3,607.1 214.7,606.9 216.7,606.7 218.4,606.4 219.8,606.2 221.0,605.9 222.0,605.7 222.9,605.5 223.7,605.2 224.5,604.9 225.2,604.6 225.9,604.2 226.4,603.8 226.8,603.4 227.1,603.0 227.4,602.7 227.6,602.4 227.8,602.2" fill="none" stroke="#0000ff" stroke-width="1.3" stroke-linejoin="round"/>
<text class="s" x="76.8" y="571.8" font-size="12.7" font-style="italic" stroke="#000" stroke-width="0.12">C<tspan font-size="8.9" dy="2.4">b</tspan></text>
<text class="s" x="106.2" y="593.7" font-size="12.7" font-style="italic" stroke="#000" stroke-width="0.12">C<tspan font-size="8.9" dy="2.4">g</tspan></text>
<text class="s" x="142.1" y="606" font-size="12.7" font-style="italic" stroke="#000" stroke-width="0.12">C<tspan font-size="8.9" dy="2.4">X</tspan></text>
<text x="1.7" y="538.9" font-size="19.4" stroke="#000" stroke-width="0.45">c</text>
<text transform="translate(25.2,581.6) rotate(-90)" font-size="12.4" text-anchor="middle">Capacitance <tspan class="s" font-size="13">(pF/m)</tspan></text>
<text x="68.2" y="638.4" font-size="10.3" letter-spacing="-0.1" text-anchor="middle">-1.4</text>
<text x="94.5" y="638.4" font-size="10.3" letter-spacing="-0.1" text-anchor="middle">-1.2</text>
<text x="120.8" y="638.4" font-size="10.3" letter-spacing="-0.1" text-anchor="middle">-1.0</text>
<text x="147.2" y="638.4" font-size="10.3" letter-spacing="-0.1" text-anchor="middle">-0.8</text>
<text x="173.5" y="638.4" font-size="10.3" letter-spacing="-0.1" text-anchor="middle">-0.6</text>
<text x="199.8" y="638.4" font-size="10.3" letter-spacing="-0.1" text-anchor="middle">-0.4</text>
<text x="226.1" y="638.4" font-size="10.3" letter-spacing="-0.1" text-anchor="middle">-0.2</text>
<text x="150.6" y="653.3" font-size="12.4" text-anchor="middle">Gate voltage, <tspan class="s" font-style="italic" font-size="13.1">V</tspan><tspan class="s" font-size="9" dy="2">G1</tspan><tspan class="s" font-size="13.1" dy="-2"> (V)</tspan></text>
<rect x="315.65" y="324" width="190.55" height="94.85000000000002" fill="none" stroke="#000" stroke-width="1.25"/>
<line x1="325.0" y1="418.85" x2="325.0" y2="414.65000000000003" stroke="#000" stroke-width="1.1"/>
<line x1="363.1" y1="418.85" x2="363.1" y2="414.65000000000003" stroke="#000" stroke-width="1.1"/>
<line x1="401.2" y1="418.85" x2="401.2" y2="414.65000000000003" stroke="#000" stroke-width="1.1"/>
<line x1="439.3" y1="418.85" x2="439.3" y2="414.65000000000003" stroke="#000" stroke-width="1.1"/>
<line x1="477.4" y1="418.85" x2="477.4" y2="414.65000000000003" stroke="#000" stroke-width="1.1"/>
<line x1="344.1" y1="418.85" x2="344.1" y2="416.05" stroke="#000" stroke-width="1.1"/>
<line x1="382.1" y1="418.85" x2="382.1" y2="416.05" stroke="#000" stroke-width="1.1"/>
<line x1="420.2" y1="418.85" x2="420.2" y2="416.05" stroke="#000" stroke-width="1.1"/>
<line x1="458.4" y1="418.85" x2="458.4" y2="416.05" stroke="#000" stroke-width="1.1"/>
<line x1="496.5" y1="418.85" x2="496.5" y2="416.05" stroke="#000" stroke-width="1.1"/>
<line x1="315.65" y1="389.7" x2="319.84999999999997" y2="389.7" stroke="#000" stroke-width="1.1"/>
<line x1="315.65" y1="360.4" x2="319.84999999999997" y2="360.4" stroke="#000" stroke-width="1.1"/>
<line x1="315.65" y1="331.1" x2="319.84999999999997" y2="331.1" stroke="#000" stroke-width="1.1"/>
<line x1="315.65" y1="404.4" x2="318.45" y2="404.4" stroke="#000" stroke-width="1.1"/>
<line x1="315.65" y1="375.1" x2="318.45" y2="375.1" stroke="#000" stroke-width="1.1"/>
<line x1="315.65" y1="345.8" x2="318.45" y2="345.8" stroke="#000" stroke-width="1.1"/>
<text x="311.3" y="422.4" font-size="10.3" letter-spacing="-0.3" text-anchor="end">0</text>
<text x="311.3" y="393.1" font-size="10.3" letter-spacing="-0.3" text-anchor="end">100</text>
<text x="311.3" y="363.8" font-size="10.3" letter-spacing="-0.3" text-anchor="end">200</text>
<text x="311.3" y="334.5" font-size="10.3" letter-spacing="-0.3" text-anchor="end">300</text>
<polyline points="326.8,394.5 327.0,394.4 327.3,394.3 327.7,394.2 328.1,394.0 328.6,393.8 329.0,393.7 329.5,393.5 330.0,393.4 330.5,393.3 330.9,393.2 331.4,393.1 331.8,393.0 332.4,392.9 333.0,392.7 333.7,392.6 334.6,392.5 335.6,392.4 336.6,392.2 337.7,392.1 338.9,391.9 340.2,391.7 341.7,391.6 343.2,391.4 345.0,391.2 346.7,391.0 348.4,390.8 350.1,390.7 352.0,390.5 354.2,390.3 356.8,390.1 360.0,389.8 364.0,389.6 368.9,389.3 374.6,389.1 381.0,388.7 387.9,388.4 394.9,388.1 401.9,387.8 408.7,387.5 415.0,387.3 420.9,387.1 426.7,386.9 432.4,386.7 438.0,386.5 443.6,386.4 449.1,386.2 454.5,386.1 460.0,385.9 465.7,385.7 471.8,385.6 478.0,385.4 484.1,385.2 489.8,385.1 494.9,384.9 499.2,384.8 502.5,384.7" fill="none" stroke="#2222ff" stroke-width="1.25" stroke-dasharray="2.5,1.6" stroke-linejoin="round"/>
<circle cx="325.0" cy="383.9" r="2.2" fill="#f00"/>
<circle cx="334.5" cy="380.8" r="2.2" fill="#f00"/>
<circle cx="344.1" cy="378.6" r="2.2" fill="#f00"/>
<circle cx="353.6" cy="376.3" r="2.2" fill="#f00"/>
<circle cx="363.1" cy="374.9" r="2.2" fill="#f00"/>
<circle cx="372.6" cy="374.1" r="2.2" fill="#f00"/>
<circle cx="382.1" cy="373.1" r="2.2" fill="#f00"/>
<circle cx="391.7" cy="371.8" r="2.2" fill="#f00"/>
<circle cx="401.2" cy="372.2" r="2.2" fill="#f00"/>
<circle cx="410.7" cy="371.6" r="2.2" fill="#f00"/>
<circle cx="420.2" cy="371.6" r="2.2" fill="#f00"/>
<circle cx="429.8" cy="371.6" r="2.2" fill="#f00"/>
<circle cx="439.3" cy="372.9" r="2.2" fill="#f00"/>
<circle cx="448.8" cy="373.1" r="2.2" fill="#f00"/>
<circle cx="458.4" cy="372.7" r="2.2" fill="#f00"/>
<circle cx="467.9" cy="375.1" r="2.2" fill="#f00"/>
<circle cx="477.4" cy="374.3" r="2.2" fill="#f00"/>
<circle cx="486.9" cy="375.3" r="2.2" fill="#f00"/>
<circle cx="496.5" cy="377.8" r="2.2" fill="#f00"/>
<text x="262.2" y="329.7" font-size="19" stroke="#000" stroke-width="0.2">d</text>
<text class="s" transform="translate(286,373.1) rotate(-90)" font-size="12.5" text-anchor="middle"><tspan font-style="italic" font-size="15">υ</tspan>* (km/s)</text>
<rect x="315.65" y="428.6" width="190.55" height="94.5" fill="none" stroke="#000" stroke-width="1.25"/>
<line x1="325.0" y1="523.1" x2="325.0" y2="518.9" stroke="#000" stroke-width="1.1"/>
<line x1="363.1" y1="523.1" x2="363.1" y2="518.9" stroke="#000" stroke-width="1.1"/>
<line x1="401.2" y1="523.1" x2="401.2" y2="518.9" stroke="#000" stroke-width="1.1"/>
<line x1="439.3" y1="523.1" x2="439.3" y2="518.9" stroke="#000" stroke-width="1.1"/>
<line x1="477.4" y1="523.1" x2="477.4" y2="518.9" stroke="#000" stroke-width="1.1"/>
<line x1="344.1" y1="523.1" x2="344.1" y2="520.3000000000001" stroke="#000" stroke-width="1.1"/>
<line x1="382.1" y1="523.1" x2="382.1" y2="520.3000000000001" stroke="#000" stroke-width="1.1"/>
<line x1="420.2" y1="523.1" x2="420.2" y2="520.3000000000001" stroke="#000" stroke-width="1.1"/>
<line x1="458.4" y1="523.1" x2="458.4" y2="520.3000000000001" stroke="#000" stroke-width="1.1"/>
<line x1="496.5" y1="523.1" x2="496.5" y2="520.3000000000001" stroke="#000" stroke-width="1.1"/>
<line x1="315.65" y1="500.8" x2="319.84999999999997" y2="500.8" stroke="#000" stroke-width="1.1"/>
<line x1="315.65" y1="478.5" x2="319.84999999999997" y2="478.5" stroke="#000" stroke-width="1.1"/>
<line x1="315.65" y1="456.3" x2="319.84999999999997" y2="456.3" stroke="#000" stroke-width="1.1"/>
<line x1="315.65" y1="434.0" x2="319.84999999999997" y2="434.0" stroke="#000" stroke-width="1.1"/>
<line x1="315.65" y1="511.9" x2="318.45" y2="511.9" stroke="#000" stroke-width="1.1"/>
<line x1="315.65" y1="489.6" x2="318.45" y2="489.6" stroke="#000" stroke-width="1.1"/>
<line x1="315.65" y1="467.4" x2="318.45" y2="467.4" stroke="#000" stroke-width="1.1"/>
<line x1="315.65" y1="445.2" x2="318.45" y2="445.2" stroke="#000" stroke-width="1.1"/>
<text x="311.3" y="526.4" font-size="10.3" letter-spacing="-0.3" text-anchor="end">0.00</text>
<text x="311.3" y="504.1" font-size="10.3" letter-spacing="-0.3" text-anchor="end">0.02</text>
<text x="311.3" y="481.9" font-size="10.3" letter-spacing="-0.3" text-anchor="end">0.04</text>
<text x="311.3" y="459.6" font-size="10.3" letter-spacing="-0.3" text-anchor="end">0.06</text>
<text x="311.3" y="437.4" font-size="10.3" letter-spacing="-0.3" text-anchor="end">0.08</text>
<polyline points="354.2,430.3 355.0,431.4 356.0,432.9 357.2,434.7 358.5,436.7 359.9,438.8 361.3,440.9 362.7,442.8 364.0,444.6 365.2,446.2 366.4,447.8 367.7,449.3 368.9,450.8 370.1,452.3 371.4,453.7 372.6,455.1 373.8,456.4 375.0,457.7 376.2,458.9 377.5,460.0 378.7,461.1 379.9,462.2 381.2,463.2 382.4,464.2 383.6,465.2 384.8,466.2 386.1,467.1 387.3,468.0 388.5,468.8 389.7,469.6 390.9,470.4 392.2,471.2 393.4,472.0 394.6,472.8 395.8,473.5 397.1,474.2 398.3,474.9 399.5,475.5 400.7,476.2 402.0,476.8 403.2,477.5 404.4,478.1 405.5,478.8 406.6,479.4 407.7,479.9 408.8,480.6 410.1,481.2 411.4,481.9 413.0,482.6 414.7,483.4 416.6,484.3 418.6,485.2 420.7,486.2 422.9,487.1 425.1,488.0 427.3,488.9 429.6,489.7 431.9,490.4 434.3,491.1 436.7,491.7 439.2,492.3 441.7,492.9 444.2,493.4 446.7,494.0 449.2,494.6 451.6,495.2 454.1,495.9 456.6,496.5 459.0,497.2 461.4,497.8 463.9,498.4 466.3,499.0 468.8,499.5 471.3,500.0 473.9,500.5 476.4,500.9 479.0,501.3 481.5,501.7 484.0,502.1 486.3,502.5 488.4,502.8 490.4,503.1 492.4,503.5 494.3,503.8 496.0,504.1 497.6,504.4 499.1,504.6 500.3,504.8 501.2,505.0" fill="none" stroke="#2222ff" stroke-width="1.25" stroke-dasharray="2.5,1.6" stroke-linejoin="round"/>
<circle cx="325.0" cy="489.3" r="2.2" fill="#f00"/>
<circle cx="334.5" cy="483" r="2.2" fill="#f00"/>
<circle cx="344.1" cy="472.1" r="2.2" fill="#f00"/>
<circle cx="353.6" cy="469.9" r="2.2" fill="#f00"/>
<circle cx="363.1" cy="465.2" r="2.2" fill="#f00"/>
<circle cx="372.6" cy="469.1" r="2.2" fill="#f00"/>
<circle cx="382.1" cy="473" r="2.2" fill="#f00"/>
<circle cx="391.7" cy="472.1" r="2.2" fill="#f00"/>
<circle cx="401.2" cy="478.3" r="2.2" fill="#f00"/>
<circle cx="410.7" cy="480.5" r="2.2" fill="#f00"/>
<circle cx="420.2" cy="481.3" r="2.2" fill="#f00"/>
<circle cx="429.8" cy="487.7" r="2.2" fill="#f00"/>
<circle cx="439.3" cy="489.7" r="2.2" fill="#f00"/>
<circle cx="448.8" cy="493.6" r="2.2" fill="#f00"/>
<circle cx="458.4" cy="495" r="2.2" fill="#f00"/>
<circle cx="467.9" cy="500.5" r="2.2" fill="#f00"/>
<circle cx="477.4" cy="507.7" r="2.2" fill="#f00"/>
<circle cx="486.9" cy="509.1" r="2.2" fill="#f00"/>
<circle cx="496.5" cy="509.1" r="2.2" fill="#f00"/>
<text x="262.2" y="433.3" font-size="19" stroke="#000" stroke-width="0.2">e</text>
<text class="s" transform="translate(285.6,475.8) rotate(-90)" font-size="13" text-anchor="middle" font-style="italic">r</text>
<rect x="315.65" y="532.7" width="190.55" height="94.5" fill="none" stroke="#000" stroke-width="1.25"/>
<line x1="325.0" y1="627.2" x2="325.0" y2="623.0" stroke="#000" stroke-width="1.1"/>
<line x1="363.1" y1="627.2" x2="363.1" y2="623.0" stroke="#000" stroke-width="1.1"/>
<line x1="401.2" y1="627.2" x2="401.2" y2="623.0" stroke="#000" stroke-width="1.1"/>
<line x1="439.3" y1="627.2" x2="439.3" y2="623.0" stroke="#000" stroke-width="1.1"/>
<line x1="477.4" y1="627.2" x2="477.4" y2="623.0" stroke="#000" stroke-width="1.1"/>
<line x1="344.1" y1="627.2" x2="344.1" y2="624.4000000000001" stroke="#000" stroke-width="1.1"/>
<line x1="382.1" y1="627.2" x2="382.1" y2="624.4000000000001" stroke="#000" stroke-width="1.1"/>
<line x1="420.2" y1="627.2" x2="420.2" y2="624.4000000000001" stroke="#000" stroke-width="1.1"/>
<line x1="458.4" y1="627.2" x2="458.4" y2="624.4000000000001" stroke="#000" stroke-width="1.1"/>
<line x1="496.5" y1="627.2" x2="496.5" y2="624.4000000000001" stroke="#000" stroke-width="1.1"/>
<line x1="315.65" y1="618.3" x2="320.15" y2="618.3" stroke="#000" stroke-width="1.1"/>
<line x1="315.65" y1="578.8" x2="320.15" y2="578.8" stroke="#000" stroke-width="1.1"/>
<line x1="315.65" y1="539.3" x2="320.15" y2="539.3" stroke="#000" stroke-width="1.1"/>
<line x1="315.65" y1="624.4" x2="317.84999999999997" y2="624.4" stroke="#000" stroke-width="1.1"/>
<line x1="315.65" y1="622.1" x2="317.84999999999997" y2="622.1" stroke="#000" stroke-width="1.1"/>
<line x1="315.65" y1="620.1" x2="317.84999999999997" y2="620.1" stroke="#000" stroke-width="1.1"/>
<line x1="315.65" y1="606.4" x2="317.84999999999997" y2="606.4" stroke="#000" stroke-width="1.1"/>
<line x1="315.65" y1="599.5" x2="317.84999999999997" y2="599.5" stroke="#000" stroke-width="1.1"/>
<line x1="315.65" y1="594.5" x2="317.84999999999997" y2="594.5" stroke="#000" stroke-width="1.1"/>
<line x1="315.65" y1="590.7" x2="317.84999999999997" y2="590.7" stroke="#000" stroke-width="1.1"/>
<line x1="315.65" y1="587.6" x2="317.84999999999997" y2="587.6" stroke="#000" stroke-width="1.1"/>
<line x1="315.65" y1="584.9" x2="317.84999999999997" y2="584.9" stroke="#000" stroke-width="1.1"/>
<line x1="315.65" y1="582.6" x2="317.84999999999997" y2="582.6" stroke="#000" stroke-width="1.1"/>
<line x1="315.65" y1="580.6" x2="317.84999999999997" y2="580.6" stroke="#000" stroke-width="1.1"/>
<line x1="315.65" y1="566.9" x2="317.84999999999997" y2="566.9" stroke="#000" stroke-width="1.1"/>
<line x1="315.65" y1="560.0" x2="317.84999999999997" y2="560.0" stroke="#000" stroke-width="1.1"/>
<line x1="315.65" y1="555.0" x2="317.84999999999997" y2="555.0" stroke="#000" stroke-width="1.1"/>
<line x1="315.65" y1="551.2" x2="317.84999999999997" y2="551.2" stroke="#000" stroke-width="1.1"/>
<line x1="315.65" y1="548.1" x2="317.84999999999997" y2="548.1" stroke="#000" stroke-width="1.1"/>
<line x1="315.65" y1="545.4" x2="317.84999999999997" y2="545.4" stroke="#000" stroke-width="1.1"/>
<line x1="315.65" y1="543.1" x2="317.84999999999997" y2="543.1" stroke="#000" stroke-width="1.1"/>
<line x1="315.65" y1="541.1" x2="317.84999999999997" y2="541.1" stroke="#000" stroke-width="1.1"/>
<line x1="315.65" y1="627.1" x2="317.84999999999997" y2="627.1" stroke="#000" stroke-width="1.1"/>
<line x1="315.65" y1="624.4" x2="317.84999999999997" y2="624.4" stroke="#000" stroke-width="1.1"/>
<line x1="315.65" y1="622.1" x2="317.84999999999997" y2="622.1" stroke="#000" stroke-width="1.1"/>
<line x1="315.65" y1="620.1" x2="317.84999999999997" y2="620.1" stroke="#000" stroke-width="1.1"/>
<text x="311.3" y="621.7" font-size="10.3" letter-spacing="-0.3" text-anchor="end">10</text>
<text x="311.3" y="582.2" font-size="10.3" letter-spacing="-0.3" text-anchor="end">100</text>
<text x="311.3" y="542.7" font-size="10.3" letter-spacing="-0.3" text-anchor="end">1000</text>
<polyline points="326.5,564.0 415.0,565.5 502.2,566.5" fill="none" stroke="#ff8a10" stroke-width="1.2" stroke-linejoin="round"/>
<polyline points="326.6,584.3 326.7,584.1 326.8,583.9 326.9,583.7 327.0,583.4 327.1,583.1 327.3,582.8 327.4,582.6 327.6,582.3 327.8,582.1 328.0,581.8 328.3,581.5 328.5,581.3 328.8,581.0 329.1,580.8 329.3,580.6 329.6,580.4 329.8,580.2 330.1,580.1 330.3,580.0 330.5,579.9 330.8,579.8 331.0,579.7 331.2,579.6 331.5,579.5 331.7,579.4 332.0,579.3 332.2,579.2 332.4,579.2 332.7,579.1 333.0,579.0 333.3,579.0 333.8,578.9 334.3,578.8 334.8,578.8 335.4,578.7 336.1,578.6 336.8,578.6 337.6,578.5 338.5,578.5 339.6,578.4 340.5,578.3 341.1,578.3 341.5,578.3 342.2,578.2 343.4,578.2 345.2,578.1 348.0,578.1 352.0,578.0 357.3,577.9 363.6,577.9 370.9,577.8 378.8,577.7 387.4,577.6 396.4,577.5 405.6,577.4 415.0,577.4 425.3,577.4 437.1,577.4 449.8,577.4 462.5,577.4 474.8,577.4 486.0,577.4 495.3,577.4 502.2,577.4" fill="none" stroke="#800080" stroke-width="1.2" stroke-linejoin="round"/>
<polyline points="326.6,569.2 326.9,569.6 327.2,570.1 327.7,570.8 328.2,571.5 328.7,572.2 329.2,573.0 329.7,573.7 330.2,574.3 330.6,574.9 331.0,575.4 331.5,575.9 331.9,576.4 332.3,576.9 332.7,577.4 333.2,577.8 333.8,578.3 334.4,578.8 335.1,579.2 335.9,579.7 336.6,580.1 337.4,580.6 338.2,581.0 338.9,581.4 339.6,581.8 340.2,582.2 340.8,582.5 341.4,582.8 341.9,583.1 342.5,583.4 343.1,583.7 343.7,584.0 344.4,584.3 345.2,584.6 346.1,585.0 347.0,585.4 348.0,585.8 349.0,586.1 349.9,586.5 350.7,586.8 351.4,587.1 351.8,587.3 352.0,587.4 352.0,587.5 352.0,587.6 352.1,587.7 352.4,587.9 353.1,588.2 354.2,588.6 355.8,589.2 357.9,590.0 360.3,590.9 362.9,591.9 365.7,592.9 368.5,593.9 371.2,594.8 373.8,595.6 376.2,596.3 378.7,596.9 381.2,597.5 383.6,598.0 386.1,598.5 388.5,599.0 391.0,599.5 393.4,600.0 395.8,600.5 398.1,600.9 400.5,601.3 402.8,601.7 405.2,602.1 407.6,602.5 410.2,603.0 413.0,603.5 416.0,604.0 419.1,604.6 422.3,605.2 425.6,605.9 429.0,606.5 432.4,607.1 435.9,607.8 439.4,608.4 442.9,609.0 446.4,609.6 450.0,610.3 453.7,610.9 457.4,611.5 461.1,612.1 464.9,612.7 468.8,613.3 473.0,613.9 477.7,614.6 482.5,615.2 487.3,615.9 491.9,616.5 496.1,617.0 499.6,617.5 502.2,617.8" fill="none" stroke="#0000ff" stroke-width="1.3" stroke-linejoin="round"/>
<text class="s" x="448.6" y="559.8" font-size="12.7" font-style="italic" stroke="#000" stroke-width="0.12">C<tspan font-size="8.9" dy="2.4">g</tspan></text>
<text class="s" x="419" y="589.4" font-size="12.7" font-style="italic" stroke="#000" stroke-width="0.12">C<tspan font-size="8.9" dy="2.4">b</tspan></text>
<text class="s" x="385.4" y="613.3" font-size="12.7" font-style="italic" stroke="#000" stroke-width="0.12">C<tspan font-size="8.9" dy="2.4">X</tspan></text>
<text x="264.7" y="538.7" font-size="19.2" stroke="#000" stroke-width="0.2">f</text>
<text transform="translate(285.4,582.6) rotate(-90)" font-size="12.4" text-anchor="middle">Capacitance <tspan class="s" font-size="13">(pF/m)</tspan></text>
<text x="325.0" y="638.7" font-size="10.3" letter-spacing="-0.1" text-anchor="middle">1.0</text>
<text x="363.1" y="638.7" font-size="10.3" letter-spacing="-0.1" text-anchor="middle">1.2</text>
<text x="401.2" y="638.7" font-size="10.3" letter-spacing="-0.1" text-anchor="middle">1.4</text>
<text x="439.3" y="638.7" font-size="10.3" letter-spacing="-0.1" text-anchor="middle">1.6</text>
<text x="477.4" y="638.7" font-size="10.3" letter-spacing="-0.1" text-anchor="middle">1.8</text>
<text x="410.8" y="654.6" font-size="12.4" text-anchor="middle">Filling factor, <tspan class="s" font-size="13.6" dx="2">ν</tspan></text>
</svg></body></html>
